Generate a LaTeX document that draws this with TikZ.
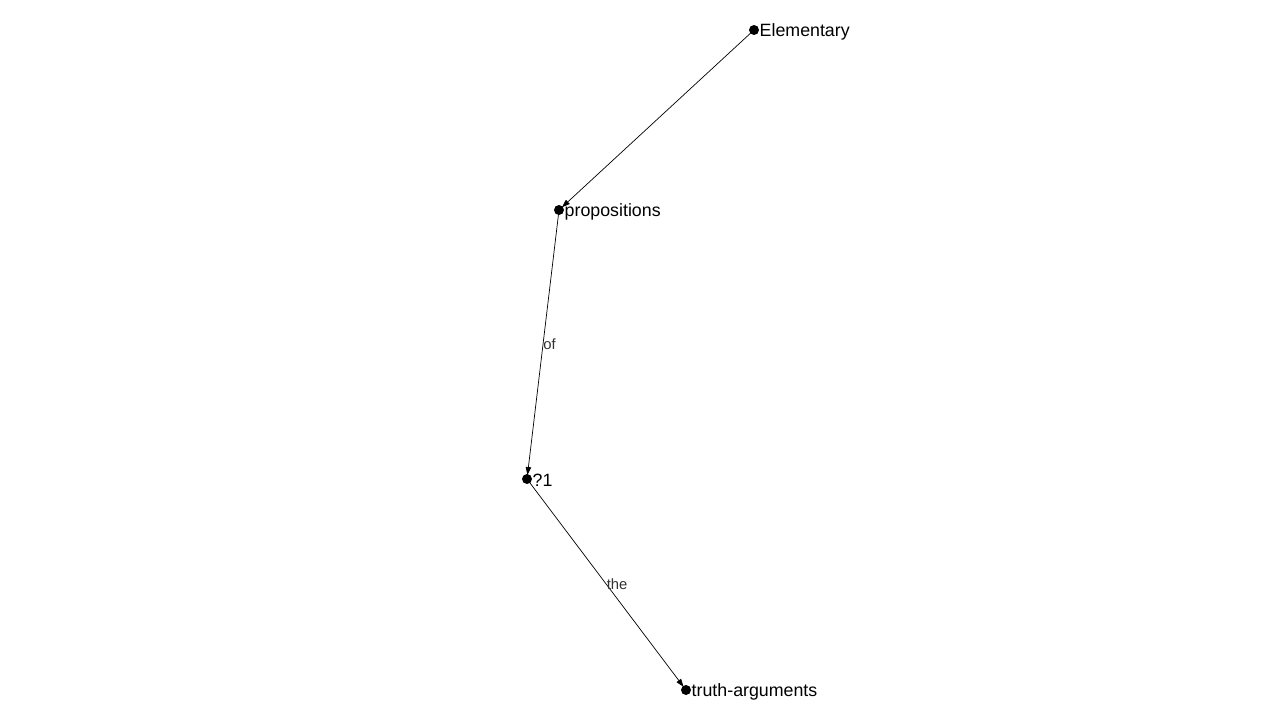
\documentclass[tikz,border=0pt]{standalone}
\usepackage{fontspec}
\setmainfont{Liberation Sans}
\usetikzlibrary{arrows.meta}
\definecolor{edgeGray}{RGB}{50, 50, 50}

\tikzset{
  vertex/.style={circle, fill=black, inner sep=0pt, minimum size=10pt},
  word/.style={font=\fontsize{17.8}{20}\selectfont, inner sep=0.3pt, anchor=west, yshift=-1.5pt},
  link/.style={-{Triangle[length=8pt, width=5.5pt]}, line width=0.7pt, shorten >=4pt},
  rel/.style={font=\fontsize{14.8}{17}\selectfont, text=edgeGray, inner sep=0pt, anchor=west}
}

\begin{document}
\begin{tikzpicture}[x=1pt, y=-1pt]
        \useasboundingbox (0,0) rectangle (1280,720);
        \node[vertex] (el) at (754,30) {};
        \node[vertex] (pr) at (559,210) {};
        \node[vertex] (q1) at (527,479) {};
        \node[vertex] (ta) at (686,690) {};
        \node[word] at (el.east) {Elementary};
        \node[word] at (pr.east) {propositions};
        \node[word] at (q1.east) {?1};
        \node[word] at (ta.east) {truth-arguments};
        \draw[link] (el.center) -- (pr.center);
        \draw[link] (pr.center) -- node[rel, pos=0.5] {of} (q1.center);
        \draw[link] (q1.center) -- node[rel, pos=0.5] {the} (ta.center);
      \end{tikzpicture}
\end{document}
